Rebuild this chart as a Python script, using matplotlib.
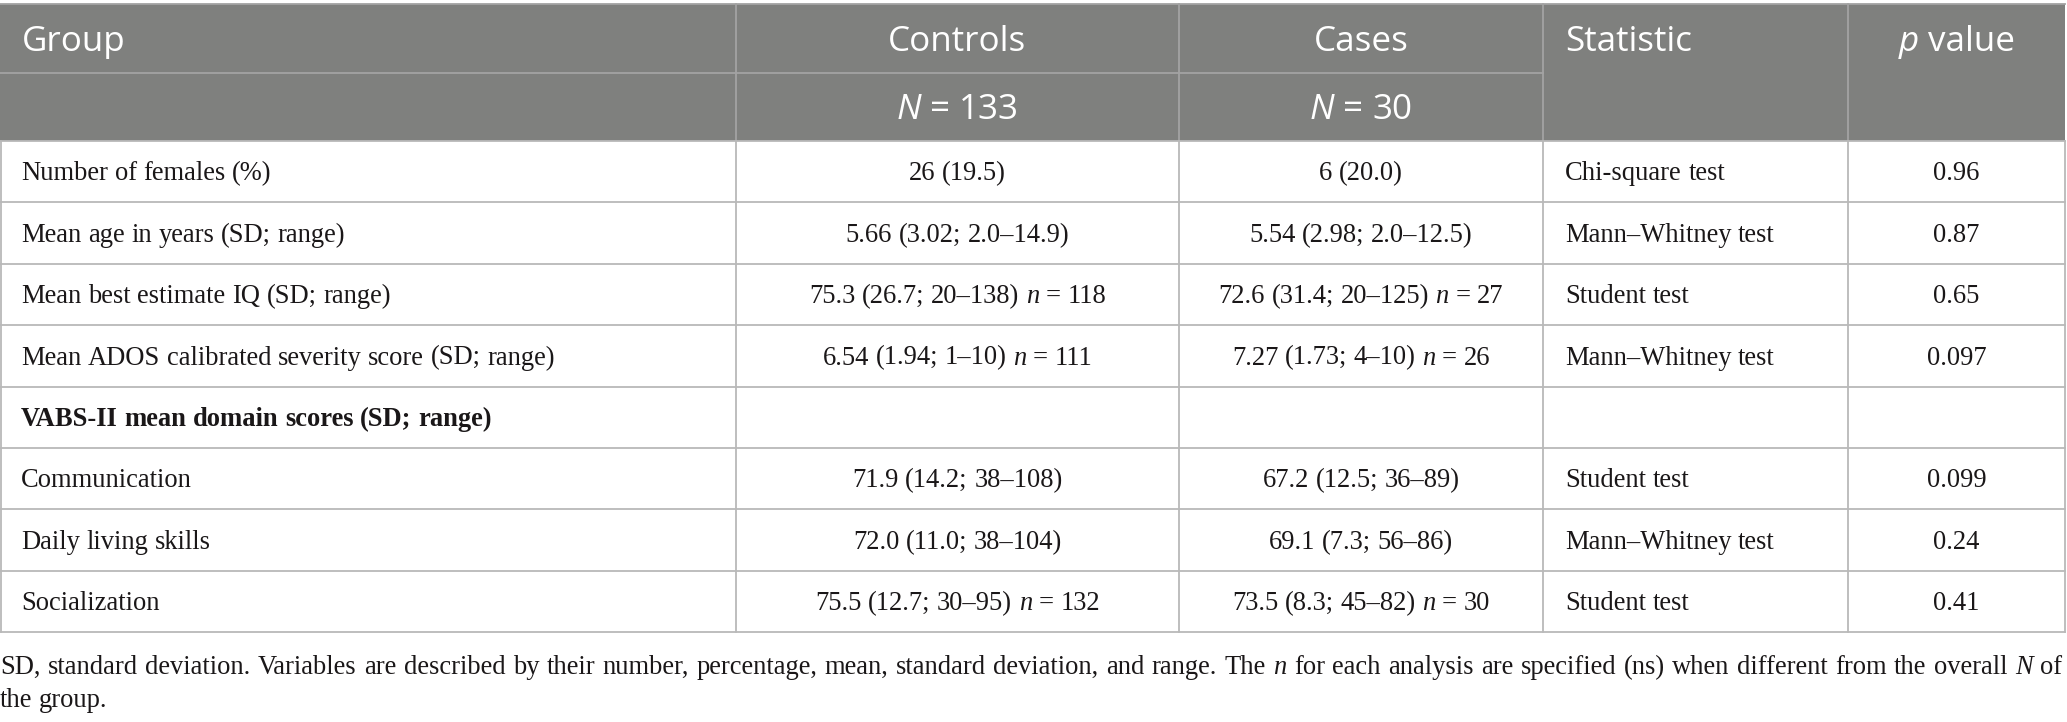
import matplotlib
matplotlib.use('Agg')
import matplotlib.pyplot as plt
from matplotlib.patches import Rectangle

# table content ('*' marks italic runs)
header_top = ["Group", "Controls", "Cases", "Statistic", "*p* value"]
header_n = ["", "*N* = 133", "*N* = 30"]

row_labels = [
    "Number of females (%)",
    "Mean age in years (SD; range)",
    "Mean best estimate IQ (SD; range)",
    "Mean ADOS calibrated severity score (SD; range)",
    "VABS-II mean domain scores (SD; range)",
    "Communication",
    "Daily living skills",
    "Socialization",
]
bold_rows = [4]
controls = [
    "26 (19.5)",
    "5.66 (3.02; 2.0–14.9)",
    "75.3 (26.7; 20–138) *n* = 118",
    "6.54 (1.94; 1–10) *n* = 111",
    "",
    "71.9 (14.2; 38–108)",
    "72.0 (11.0; 38–104)",
    "75.5 (12.7; 30–95) *n* = 132",
]
cases = [
    "6 (20.0)",
    "5.54 (2.98; 2.0–12.5)",
    "72.6 (31.4; 20–125) *n* = 27",
    "7.27 (1.73; 4–10) *n* = 26",
    "",
    "67.2 (12.5; 36–89)",
    "69.1 (7.3; 56–86)",
    "73.5 (8.3; 45–82) *n* = 30",
]
statistic = [
    "Chi-square test",
    "Mann–Whitney test",
    "Student test",
    "Mann–Whitney test",
    "",
    "Student test",
    "Mann–Whitney test",
    "Student test",
]
p_values = ["0.96", "0.87", "0.65", "0.097", "", "0.099", "0.24", "0.41"]

footnote = [
    "SD, standard deviation. Variables are described by their number, percentage, mean, standard deviation, "
    "and range. The *n* for each analysis are specified (ns) when different from the overall *N* of",
    "the group.",
]

W, H = 2067, 722
col_x = [1, 736, 1179, 1543, 1848, 2065]
head_y = [4, 73, 141]
body_top, body_bot = 141, 632
n_rows = len(row_labels)
row_h = (body_bot - body_top) / n_rows

HEAD_BG = '#7f807e'
HEAD_LINE = '#a3a3a3'
LINE = '#b9b9b9'
TXT = '#1a1718'

SERIF = 'Liberation Serif'
SANS = 'Open Sans'
body_px = 26.5
head_px = 35

fig = plt.figure(figsize=(W / 100, H / 100), dpi=100)
ax = fig.add_axes([0, 0, 1, 1])
ax.set_xlim(0, W)
ax.set_ylim(H, 0)
ax.axis('off')
renderer = fig.canvas.get_renderer()


def pt(px):
    return px * 72 / 100


def measure(s, fam, px, style, weight):
    t = ax.text(0, 0, s, family=fam, fontsize=pt(px), style=style, weight=weight)
    w = t.get_window_extent(renderer).width
    t.remove()
    return w


def draw_runs(x, y, s, ha, fam, px, color, weight='normal', justify=None):
    if not s:
        return
    sp = measure('x x', fam, px, 'normal', weight) - measure('xx', fam, px, 'normal', weight)
    # split into words so a line can be justified
    pieces = []
    for i, p in enumerate(s.split('*')):
        style = 'italic' if i % 2 else 'normal'
        words = p.split(' ')
        for j, wd in enumerate(words):
            if j > 0:
                pieces.append(None)  # a space
            if wd:
                pieces.append((wd, style, measure(wd, fam, px, style, weight)))
    n_sp = sum(1 for p in pieces if p is None)
    total = sum(p[2] for p in pieces if p) + n_sp * sp
    if justify and n_sp:
        sp += (justify - total) / n_sp
        total = justify
    if ha == 'center':
        x = x - total / 2
    for p in pieces:
        if p is None:
            x += sp
            continue
        wd, style, w = p
        ax.text(x, y, wd, family=fam, fontsize=pt(px), style=style,
                weight=weight, color=color, ha='left', va='baseline')
        x += w


# header background
ax.add_patch(Rectangle((0, head_y[0]), col_x[-1], head_y[2] - head_y[0],
                       facecolor=HEAD_BG, edgecolor='none', zorder=0))

# grid lines
ax.plot([0, col_x[-1]], [head_y[0], head_y[0]], color=HEAD_LINE, lw=1.3)
ax.plot([0, col_x[3]], [head_y[1], head_y[1]], color=HEAD_LINE, lw=1.3)
for x in col_x[1:-1]:
    ax.plot([x, x], [head_y[0], head_y[2]], color=HEAD_LINE, lw=1.3)
    ax.plot([x, x], [head_y[2], body_bot], color=LINE, lw=1.3)
for x in (col_x[0], col_x[-1]):
    ax.plot([x, x], [head_y[2], body_bot], color=LINE, lw=1.3)
for i in range(n_rows + 1):
    y = body_top + i * row_h
    ax.plot([0, col_x[-1]], [y, y], color=LINE, lw=1.3)

# header text
hb1 = (head_y[0] + head_y[1]) / 2 + 0.357 * head_px
hb2 = (head_y[1] + head_y[2]) / 2 + 0.357 * head_px
centers = [(col_x[i] + col_x[i + 1]) / 2 for i in range(5)]
draw_runs(22, hb1, header_top[0], 'left', SANS, head_px, 'white')
draw_runs(centers[1], hb1, header_top[1], 'center', SANS, head_px, 'white')
draw_runs(centers[2], hb1, header_top[2], 'center', SANS, head_px, 'white')
draw_runs(col_x[3] + 22, hb1, header_top[3], 'left', SANS, head_px, 'white')
draw_runs(centers[4], hb1, header_top[4], 'center', SANS, head_px, 'white')
draw_runs(centers[1], hb2, header_n[1], 'center', SANS, head_px, 'white')
draw_runs(centers[2], hb2, header_n[2], 'center', SANS, head_px, 'white')

# body text
for i in range(n_rows):
    yb = body_top + (i + 0.5) * row_h + 0.33 * body_px
    wt = 'bold' if i in bold_rows else 'normal'
    draw_runs(21, yb, row_labels[i], 'left', SERIF, body_px, TXT, wt)
    draw_runs(centers[1], yb, controls[i], 'center', SERIF, body_px, TXT)
    draw_runs(centers[2], yb, cases[i], 'center', SERIF, body_px, TXT)
    draw_runs(col_x[3] + 22, yb, statistic[i], 'left', SERIF, body_px, TXT)
    draw_runs(centers[4], yb, p_values[i], 'center', SERIF, body_px, TXT)

# footnote, first line justified to the table width
for k, line in enumerate(footnote):
    draw_runs(0, 674 + 33 * k, line, 'left', SERIF, body_px, TXT,
              justify=2062 if k == 0 else None)

fig.savefig('out.png', dpi=100)
